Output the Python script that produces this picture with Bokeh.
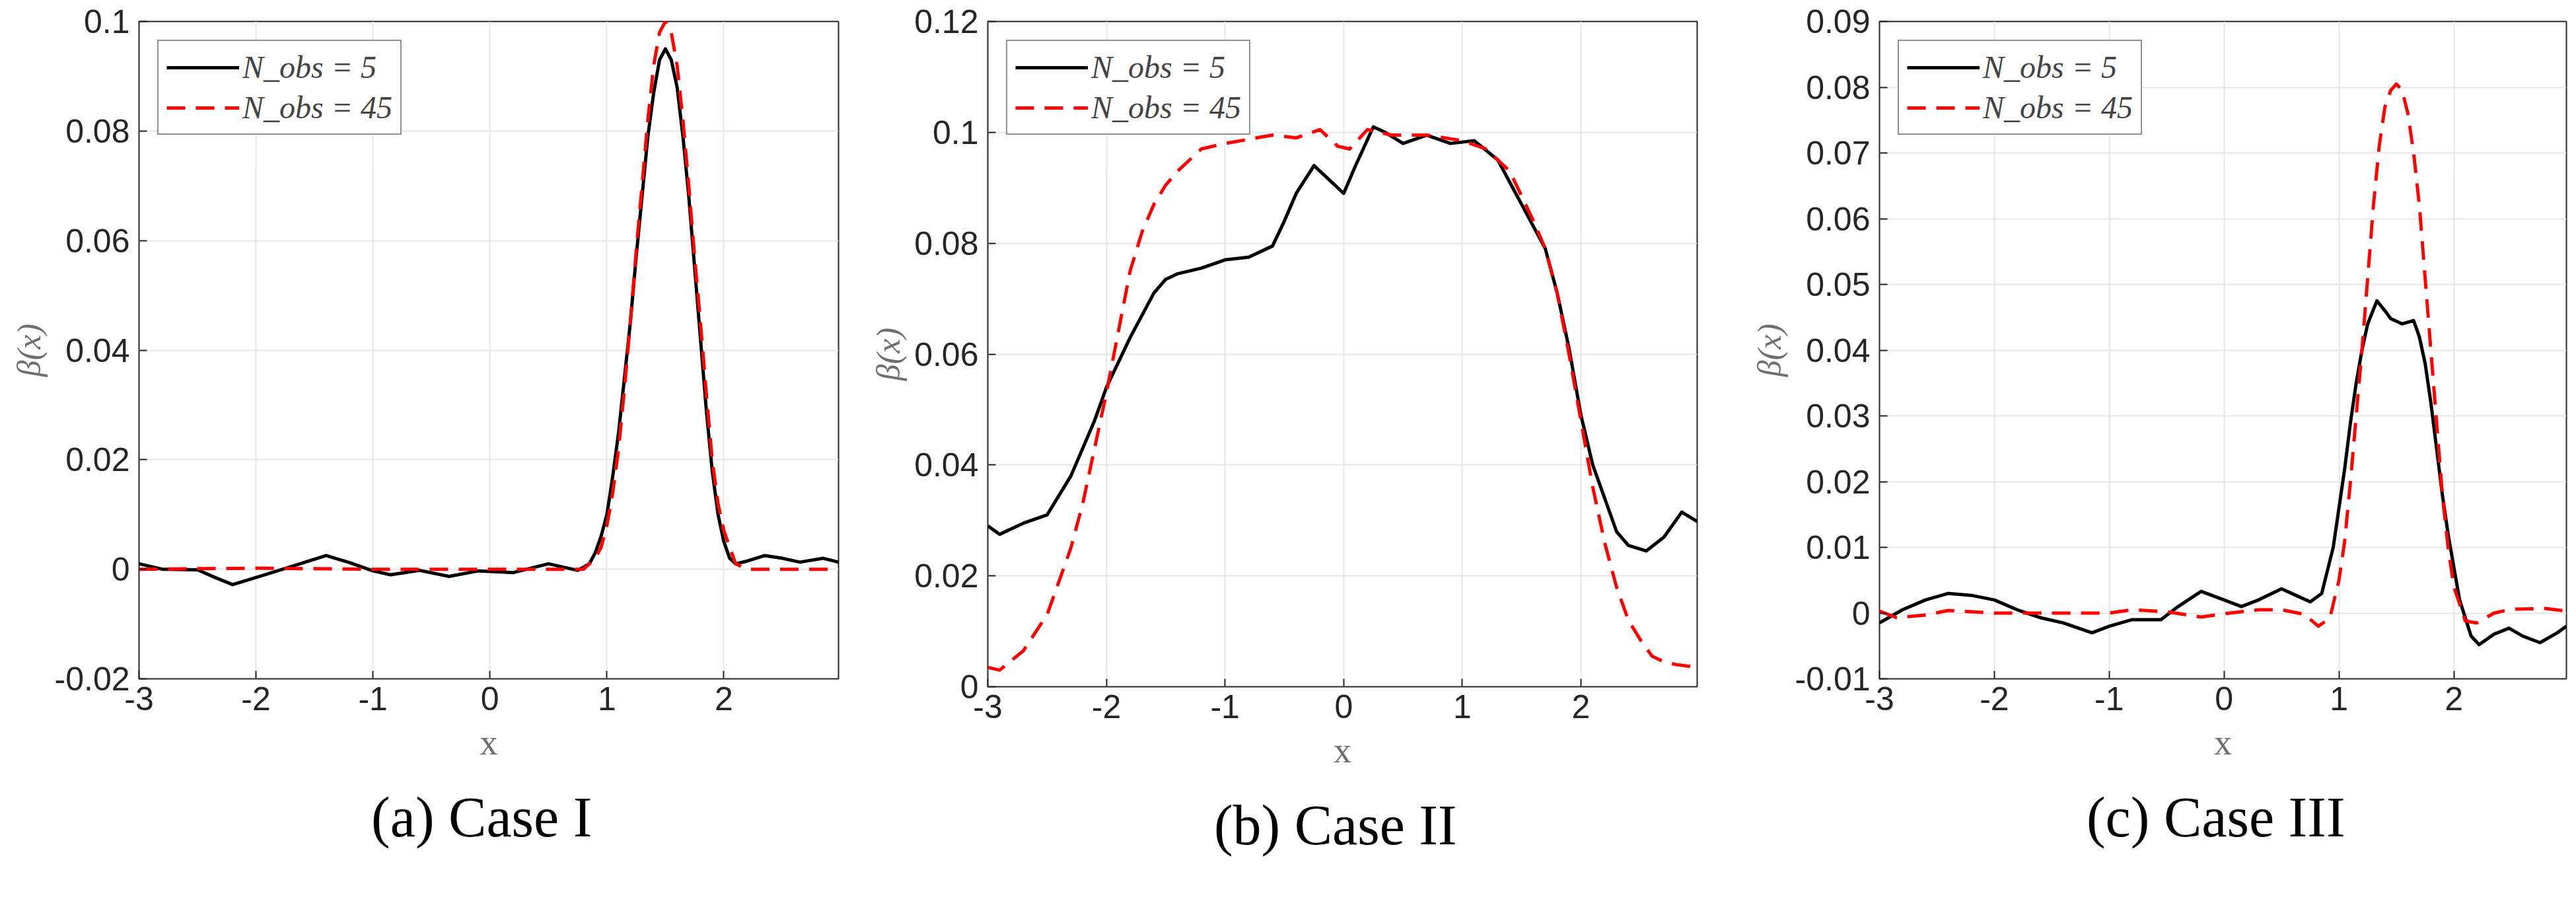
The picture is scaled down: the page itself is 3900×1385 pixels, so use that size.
from bokeh.plotting import figure
from bokeh.layouts import row
from bokeh.models import FixedTicker, LinearAxis, Range1d, Title, CustomJSTickFormatter, Legend, LegendItem
from bokeh.embed import file_html
from bokeh.resources import INLINE

# ---- data ----
x1_5 = [-3.0,-2.8,-2.5,-2.35,-2.2,-2.0,-1.7,-1.4,-1.2,-1.0,-0.85,-0.6,-0.35,-0.1,0.2,0.5,0.75,0.85,0.9,0.95,1.0,1.05,1.1,1.15,1.2,1.25,1.3,1.35,1.4,1.45,1.5,1.55,1.6,1.65,1.7,1.75,1.8,1.85,1.9,1.95,2.0,2.05,2.1,2.2,2.35,2.5,2.65,2.85,2.98]
y1_5 = [0.001,0.0,-0.0001,-0.0015,-0.0028,-0.0015,0.0005,0.0025,0.0012,-0.0003,-0.001,-0.0002,-0.0013,-0.0003,-0.0006,0.001,-0.0002,0.001,0.003,0.006,0.01,0.017,0.025,0.035,0.045,0.057,0.068,0.079,0.087,0.093,0.095,0.093,0.088,0.079,0.068,0.055,0.042,0.029,0.018,0.01,0.005,0.002,0.001,0.0015,0.0025,0.002,0.0013,0.002,0.0013]
x1_45 = [-3.0,-2.0,-1.0,0.0,0.8,0.9,0.95,1.0,1.05,1.1,1.15,1.2,1.25,1.3,1.35,1.4,1.45,1.5,1.55,1.6,1.65,1.7,1.75,1.8,1.85,1.9,1.95,2.0,2.1,2.2,2.5,2.98]
y1_45 = [0.0,0.0002,0.0,0.0,0.0,0.002,0.004,0.008,0.014,0.022,0.033,0.045,0.058,0.07,0.082,0.092,0.098,0.1,0.098,0.092,0.082,0.07,0.057,0.045,0.032,0.02,0.012,0.007,0.001,0.0,0.0,0.0]

x2_5 = [-3.0,-2.9,-2.7,-2.5,-2.3,-2.1,-2.0,-1.8,-1.6,-1.5,-1.4,-1.2,-1.0,-0.8,-0.6,-0.5,-0.4,-0.25,-0.1,0.0,0.1,0.25,0.35,0.5,0.7,0.9,1.1,1.3,1.5,1.7,1.8,1.9,2.0,2.1,2.2,2.3,2.4,2.55,2.7,2.85,2.98]
y2_5 = [0.029,0.0275,0.0295,0.031,0.038,0.048,0.054,0.063,0.071,0.0735,0.0745,0.0755,0.077,0.0775,0.0795,0.084,0.089,0.094,0.091,0.089,0.094,0.101,0.1,0.098,0.0995,0.098,0.0985,0.095,0.087,0.079,0.071,0.061,0.049,0.04,0.034,0.028,0.0255,0.0245,0.027,0.0315,0.0298]
x2_45 = [-3.0,-2.9,-2.7,-2.5,-2.3,-2.2,-2.1,-2.0,-1.9,-1.8,-1.7,-1.6,-1.5,-1.4,-1.2,-1.0,-0.6,-0.4,-0.2,-0.05,0.05,0.2,0.4,0.7,1.0,1.2,1.4,1.6,1.7,1.8,1.9,2.0,2.1,2.2,2.3,2.4,2.5,2.6,2.7,2.8,2.98]
y2_45 = [0.0035,0.003,0.0065,0.013,0.025,0.033,0.043,0.053,0.064,0.075,0.082,0.087,0.0905,0.093,0.097,0.098,0.0995,0.099,0.1005,0.0975,0.097,0.1005,0.0995,0.0995,0.0985,0.097,0.093,0.084,0.079,0.071,0.06,0.048,0.036,0.026,0.018,0.012,0.0085,0.0055,0.0045,0.004,0.0035]

x3_5 = [-3.0,-2.8,-2.6,-2.4,-2.2,-2.0,-1.8,-1.6,-1.4,-1.15,-1.0,-0.8,-0.55,-0.4,-0.2,0.0,0.15,0.3,0.5,0.65,0.75,0.85,0.95,1.0,1.05,1.1,1.15,1.2,1.25,1.33,1.4,1.45,1.55,1.65,1.7,1.75,1.8,1.85,1.9,1.95,2.05,2.15,2.22,2.35,2.48,2.6,2.75,2.9,2.98]
y3_5 = [-0.0015,0.0005,0.002,0.003,0.0027,0.002,0.0005,-0.0007,-0.0015,-0.003,-0.002,-0.001,-0.001,0.001,0.0033,0.002,0.001,0.002,0.0037,0.0025,0.0017,0.003,0.01,0.016,0.022,0.029,0.035,0.04,0.044,0.0475,0.046,0.0448,0.044,0.0445,0.042,0.038,0.032,0.025,0.018,0.012,0.002,-0.0035,-0.0048,-0.0032,-0.0023,-0.0035,-0.0045,-0.003,-0.002]
x3_45 = [-3.0,-2.85,-2.6,-2.4,-2.2,-2.0,-1.5,-1.0,-0.8,-0.5,-0.2,0.0,0.3,0.5,0.7,0.82,0.92,1.0,1.05,1.1,1.15,1.2,1.25,1.3,1.35,1.4,1.45,1.5,1.55,1.6,1.65,1.7,1.75,1.8,1.85,1.9,1.95,2.0,2.1,2.2,2.35,2.5,2.8,2.98]
y3_45 = [0.0003,-0.0007,-0.0003,0.0004,0.0002,0.0,0.0,0.0,0.0005,0.0002,-0.0006,-0.0001,0.0005,0.0005,-0.0002,-0.002,-0.0008,0.005,0.011,0.02,0.03,0.04,0.051,0.062,0.071,0.077,0.0795,0.0805,0.0795,0.076,0.07,0.062,0.051,0.04,0.029,0.018,0.01,0.004,-0.0012,-0.0015,0.0,0.0006,0.0007,0.0003]

x_ticks = [-3, -2, -1, 0, 1, 2]
captions = ["(a)  Case I", "(b)  Case II", "(c)  Case III"]
legend_labels = ["N_obs = 5", "N_obs = 45"]

panels = [
    dict(xs=(x1_5, x1_45), ys=(y1_5, y1_45), yr=(-0.02, 0.1), yt=[-0.02, 0, 0.02, 0.04, 0.06, 0.08, 0.1],
         w=1302, bl=210, fw=1059, bt=32, fh=995),
    dict(xs=(x2_5, x2_45), ys=(y2_5, y2_45), yr=(0.0, 0.12), yt=[0, 0.02, 0.04, 0.06, 0.08, 0.1, 0.12],
         w=1345, bl=193, fw=1074, bt=17, fh=1007),
    dict(xs=(x3_5, x3_45), ys=(y3_5, y3_45), yr=(-0.01, 0.09), yt=[-0.01, 0, 0.01, 0.02, 0.03, 0.04, 0.05, 0.06, 0.07, 0.08, 0.09],
         w=1237, bl=195, fw=1040, bt=32, fh=995),
]

fmt_code = "return parseFloat(tick.toFixed(4)).toString();"
figs = []
TOTAL_H = 1369
for i, pd_ in enumerate(panels):
    p = figure(output_backend="svg", toolbar_location=None,
               x_range=Range1d(-3, 2.98), y_range=Range1d(*pd_["yr"]),
               width=pd_["w"], frame_width=pd_["fw"], frame_height=pd_["fh"],
               min_border_left=pd_["bl"], min_border_right=pd_["w"] - pd_["bl"] - pd_["fw"],
               min_border_top=pd_["bt"], min_border_bottom=TOTAL_H - pd_["bt"] - pd_["fh"],
               x_axis_location=None, y_axis_location=None)
    p.outline_line_color = "#262626"
    p.outline_line_width = 2
    for side in ["left", "below"]:
        if side == "left":
            ax = LinearAxis(ticker=FixedTicker(ticks=pd_["yt"]))
        else:
            ax = LinearAxis(ticker=FixedTicker(ticks=x_ticks))
        ax.formatter = CustomJSTickFormatter(code=fmt_code)
        ax.axis_line_color = None
        ax.major_tick_in = 12
        ax.major_tick_out = 0
        ax.major_tick_line_color = "#262626"
        ax.major_tick_line_width = 2
        ax.minor_tick_line_color = None
        ax.major_label_text_font = "Liberation Sans"
        ax.major_label_text_font_size = "50px"
        ax.major_label_text_color = "#262626"
        if side == "left":
            ax.axis_label = "β(x)"
            ax.axis_label_text_font = "Liberation Serif"
            ax.axis_label_text_font_style = "italic"
            ax.axis_label_text_font_size = "50px"
            ax.axis_label_text_color = "#6e6e6e"
            ax.axis_label_standoff = 8
            ax.major_label_standoff = 14
        else:
            ax.axis_label = "x"
            ax.axis_label_text_font = "Liberation Serif"
            ax.axis_label_text_font_style = "normal"
            ax.axis_label_text_font_size = "54px"
            ax.axis_label_text_color = "#6e6e6e"
            ax.axis_label_standoff = 16
            ax.major_label_standoff = 12
        p.add_layout(ax, side)
    p.xgrid.ticker = FixedTicker(ticks=x_ticks)
    p.ygrid.ticker = FixedTicker(ticks=pd_["yt"])
    p.grid.grid_line_color = "#e6e6e6"
    p.grid.grid_line_width = 2

    r1 = p.line(pd_["xs"][0], pd_["ys"][0], line_color="black", line_width=5, line_join="round")
    r2 = p.line(pd_["xs"][1], pd_["ys"][1], line_color="#ff0000", line_width=5, line_dash="28 16", line_join="round")
    leg = Legend(items=[LegendItem(label=legend_labels[0], renderers=[r1]),
                        LegendItem(label=legend_labels[1], renderers=[r2])],
                 location="top_left")
    leg.margin = 28
    leg.padding = 12
    leg.spacing = 6
    leg.glyph_width = 110
    leg.glyph_height = 52
    leg.label_text_font = "Liberation Serif"
    leg.label_text_font_style = "italic"
    leg.label_text_font_size = "48px"
    leg.border_line_color = "#262626"
    leg.border_line_width = 2
    leg.background_fill_alpha = 1
    p.add_layout(leg, "center")

    cap = Title(text=captions[i], align="center", text_font="Liberation Serif",
                text_font_size="86px", text_font_style="normal", text_color="black",
                standoff=60)
    p.add_layout(cap, "below")
    figs.append(p)

layout = row(*figs, spacing=0)
open("out.html", "w").write(file_html(layout, INLINE))
